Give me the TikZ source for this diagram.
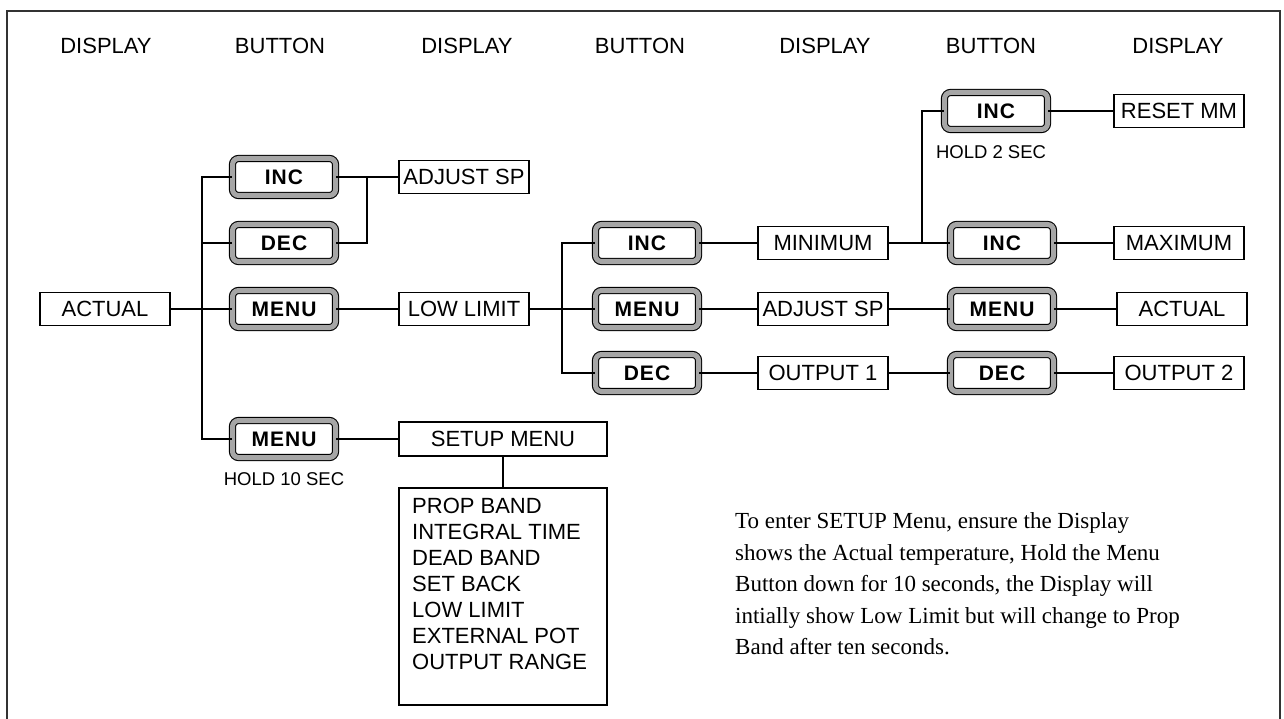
\documentclass[tikz,border=0pt]{standalone}
\usepackage{fontspec}
\setmainfont{Liberation Serif}
\setsansfont{Liberation Sans}
\newfontfamily\btnfont{Liberation Sans}[LetterSpace=5]

\begin{document}
\begin{tikzpicture}[
  x=1pt,
  y=-1pt,
  wire/.style={draw=black,line width=1.1pt},
  frame/.style={draw=black!80,line width=1.6pt},
  dispbox/.style={draw=black,line width=1.1pt,minimum width=130,minimum height=33,
                  inner sep=0pt,font=\sffamily\fontsize{22}{26}\selectfont},
  button/.style={draw=black,line width=1.1pt,double=black!35,double distance=5pt,
                 rounded corners=6pt,fill=white,minimum width=103,minimum height=37,
                 inner sep=0pt,font=\btnfont\bfseries\fontsize{21}{24}\selectfont},
  head/.style={font=\sffamily\fontsize{22}{26}\selectfont},
  hold/.style={font=\sffamily\fontsize{18.5}{22}\selectfont},
  note/.style={font=\rmfamily\fontsize{23}{31.5}\selectfont,align=left,inner sep=0pt}
]
\useasboundingbox (0,0) rectangle (1284,719);

% =====================================================================
% Frame and column headings
% =====================================================================
\draw[frame] (7,719) |- (1280,11) -- (1280,719);
\foreach \x/\lab [count=\i] in {106/DISPLAY,280/BUTTON,467/DISPLAY,640/BUTTON,
                                825/DISPLAY,991/BUTTON,1178/DISPLAY}{
  \node[head] (hd\i) at (\x,46) {\lab};
}

% =====================================================================
% Level 1: ACTUAL and its buttons
% =====================================================================
\node[dispbox] (actual) at (105,309) {ACTUAL};

\node[button] (inc1)  at (284,177) {INC};
\node[button] (dec1)  at (284,243) {DEC};
\node[button] (menu1) at (284,309) {MENU};
\node[button] (menuh) at (284,439) {MENU};
\node[hold]   (hold10) at (284,479) {HOLD 10 SEC};

\coordinate (bus1) at (202,309);
\draw[wire] (actual.east) -- (menu1.west);
\draw[wire] (inc1.west) -- (inc1.west -| bus1) |- (menuh.west);
\draw[wire] (dec1.west) -- (dec1.west -| bus1);

% =====================================================================
% Level 2: ADJUST SP, LOW LIMIT, SETUP MENU
% =====================================================================
\node[dispbox] (adj1) at (464,177) {ADJUST SP};
\node[dispbox] (low)  at (464,309) {LOW LIMIT};
\node[dispbox,minimum width=208,minimum height=34] (setup) at (503,439) {SETUP MENU};
\node[dispbox,minimum width=208,minimum height=217] (plist) at (503,596.5) {};
\node[anchor=north west,align=left,inner sep=0pt,
      font=\sffamily\fontsize{22}{26}\selectfont] (plisttxt) at (412,498)
  {PROP BAND\\INTEGRAL TIME\\DEAD BAND\\SET BACK\\LOW LIMIT\\EXTERNAL POT\\OUTPUT RANGE};

\coordinate (j1) at (367,177);
\draw[wire] (inc1.east) -- (adj1.west);
\draw[wire] (dec1.east) -| (j1);
\draw[wire] (menu1.east) -- (low.west);
\draw[wire] (menuh.east) -- (setup.west);
\draw[wire] (setup.south) -- (plist.north);

% =====================================================================
% Level 3: from LOW LIMIT
% =====================================================================
\node[button] (inc2)  at (647,243) {INC};
\node[button] (menu2) at (647,309) {MENU};
\node[button] (dec2)  at (647,373) {DEC};

\node[dispbox] (minimum) at (823,243) {MINIMUM};
\node[dispbox] (adj2)    at (823,309) {ADJUST SP};
\node[dispbox] (out1)    at (823,373) {OUTPUT 1};

\coordinate (j2) at (562,309);
\draw[wire] (low.east) -- (menu2.west);
\draw[wire] (inc2.west) -- (inc2.west -| j2) |- (dec2.west);
\draw[wire] (inc2.east) -- (minimum.west);
\draw[wire] (menu2.east) -- (adj2.west);
\draw[wire] (dec2.east) -- (out1.west);

% =====================================================================
% Level 4: last buttons and displays
% =====================================================================
\node[button] (inc3)  at (996,111) {INC};
\node[hold]   (hold2) at (991,152) {HOLD 2 SEC};
\node[button] (inc4)  at (1002,243) {INC};
\node[button] (menu3) at (1002,309) {MENU};
\node[button] (dec3)  at (1002,373) {DEC};

\node[dispbox] (reset)   at (1179,111) {RESET MM};
\node[dispbox] (maximum) at (1179,243) {MAXIMUM};
\node[dispbox] (actual2) at (1182,309) {ACTUAL};
\node[dispbox] (out2)    at (1179,373) {OUTPUT 2};

\coordinate (j3) at (922,243);
\draw[wire] (minimum.east) -- (inc4.west);
\draw[wire] (j3) |- (inc3.west);
\draw[wire] (inc3.east) -- (reset.west);
\draw[wire] (inc4.east) -- (maximum.west);
\draw[wire] (adj2.east) -- (menu3.west);
\draw[wire] (menu3.east) -- (actual2.west);
\draw[wire] (out1.east) -- (dec3.west);
\draw[wire] (dec3.east) -- (out2.west);

% =====================================================================
% Note
% =====================================================================
\node[note,anchor=west] (setupnote) at (735,584)
  {To enter SETUP Menu, ensure the Display\\
   shows the Actual temperature, Hold the Menu\\
   Button down for 10 seconds, the Display will\\
   intially show Low Limit but will change to Prop\\
   Band after ten seconds.};

\end{tikzpicture}
\end{document}
